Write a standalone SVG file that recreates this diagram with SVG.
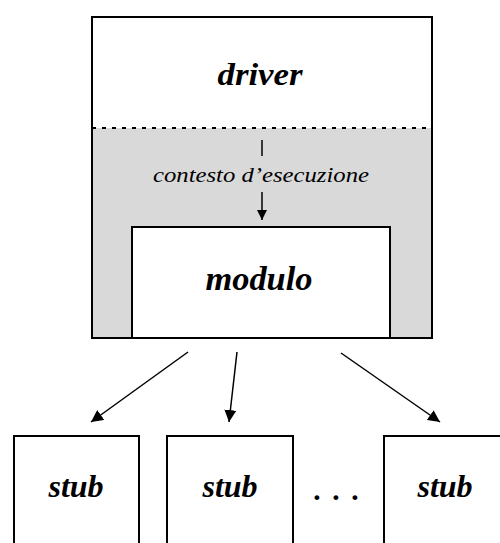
<svg xmlns="http://www.w3.org/2000/svg" width="500" height="543" viewBox="0 0 500 543">
<style>
.box{fill:#fff;stroke:#000;stroke-width:2}
.lbl{font-family:"Liberation Serif","Times New Roman",serif;font-style:italic;font-weight:bold;fill:#000;text-anchor:middle}
.ctx{font-family:"Liberation Serif","Times New Roman",serif;font-style:italic;fill:#000;text-anchor:middle;font-size:21px}
.ln{stroke:#000;stroke-width:1.5;fill:none}
</style>
<defs>
<marker id="ah" viewBox="0 0 10 10" refX="10" refY="5" markerWidth="10" markerHeight="10" markerUnits="userSpaceOnUse" orient="auto">
<path d="M0,0 L10,5 L0,10 z" fill="#000"/>
</marker>
<marker id="ah2" viewBox="0 0 10 10" refX="10" refY="5" markerWidth="12" markerHeight="12" markerUnits="userSpaceOnUse" orient="auto">
<path d="M0,0 L10,5 L0,10 z" fill="#000"/>
</marker>
</defs>
<g id="driver">
<rect x="92" y="17" width="340" height="321" fill="#fff" stroke="none"/>
<rect x="92" y="128" width="340" height="210" fill="#d9d9d9" stroke="none"/>
<rect x="92" y="17" width="340" height="321" fill="none" stroke="#000" stroke-width="2"/>
<line x1="92" y1="128" x2="432" y2="128" stroke="#000" stroke-width="2" stroke-dasharray="4 6"/>
<text class="lbl" x="260" y="85" font-size="32" textLength="85" lengthAdjust="spacingAndGlyphs">driver</text>
</g>
<g id="contesto">
<text class="ctx" x="261" y="182" textLength="216" lengthAdjust="spacingAndGlyphs">contesto d’esecuzione</text>
</g>
<g id="modulo">
<rect class="box" x="132" y="227" width="258" height="111"/>
<text class="lbl" x="259" y="290" font-size="33" textLength="107" lengthAdjust="spacingAndGlyphs">modulo</text>
</g>
<g id="stub1">
<rect class="box" x="14" y="436" width="125" height="120"/>
<text class="lbl" x="76" y="497" font-size="32">stub</text>
</g>
<g id="stub2">
<rect class="box" x="167" y="436" width="126" height="120"/>
<text class="lbl" x="230" y="497" font-size="32">stub</text>
</g>
<g id="dots">
<text class="lbl" x="338" y="500" font-size="30" letter-spacing="2">. . .</text>
</g>
<g id="stub3">
<rect class="box" x="384" y="436" width="130" height="120"/>
<text class="lbl" x="445" y="497" font-size="32">stub</text>
</g>
<g id="connectors">
<line class="ln" x1="262" y1="140" x2="262" y2="156"/>
<line class="ln" x1="262" y1="192" x2="262" y2="220" marker-end="url(#ah)"/>
<line class="ln" x1="188" y1="352" x2="91" y2="422" marker-end="url(#ah2)"/>
<line class="ln" x1="237" y1="352" x2="229" y2="422" marker-end="url(#ah2)"/>
<line class="ln" x1="341" y1="353" x2="440" y2="422" marker-end="url(#ah2)"/>
</g>
</svg>
